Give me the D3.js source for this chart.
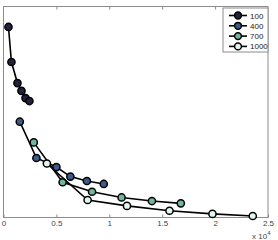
<!DOCTYPE html>
<html>
<meta charset="utf-8">
<script src="https://cdn.jsdelivr.net/npm/d3@7"></script>
<style>
  body { margin: 0; background: #fff; }
  text { font-family: "Liberation Sans", Arial, sans-serif; }
</style>
<body>
<div id="plot_area"></div>
</body>
<script>

// data (x in units of 10^4, y unitless - no y labels on the original)
var seriesNames = ["100", "400", "700", "1000"];
var seriesColors = ["#22223f", "#3d5a8a", "#6fb69a", "#e2f5ee"];
var x100 = [0.047, 0.075, 0.132, 0.170, 0.208, 0.245];
var y100 = [0.903, 0.737, 0.637, 0.600, 0.566, 0.552];
var x400 = [0.154, 0.311, 0.500, 0.632, 0.788, 0.948];
var y400 = [0.454, 0.282, 0.239, 0.194, 0.173, 0.159];
var x700 = [0.286, 0.559, 0.837, 1.116, 1.403, 1.676];
var y700 = [0.356, 0.167, 0.122, 0.095, 0.078, 0.067];
var x1000 = [0.410, 0.795, 1.167, 1.569, 1.975, 2.356];
var y1000 = [0.256, 0.083, 0.055, 0.032, 0.017, 0.007];
var xTicks = [0, 0.5, 1, 1.5, 2, 2.5];

var series = [[x100, y100], [x400, y400], [x700, y700], [x1000, y1000]];

var margin = {top: 6.5, right: 10, bottom: 22.5, left: 3.5},
    width = 278 - margin.left - margin.right,
    height = 240 - margin.top - margin.bottom;

var svg = d3.select("#plot_area")
  .append("svg")
    .attr("width", 278)
    .attr("height", 240)
  .append("g")
    .attr("transform", "translate(" + margin.left + "," + margin.top + ")");

var x = d3.scaleLinear().domain([0, 2.5]).range([0, width]);
var y = d3.scaleLinear().domain([0, 1]).range([height, 0]);

// frame
svg.append("rect")
  .attr("width", width).attr("height", height)
  .attr("fill", "none").attr("stroke", "#8c8c8c").attr("stroke-width", 1);

// bottom axis, ticks inward
var xAxis = svg.append("g")
  .attr("transform", "translate(0," + height + ")")
  .call(d3.axisBottom(x).tickValues(xTicks).tickSize(-3).tickPadding(3)
        .tickFormat(function(d) { return d3.format("")(d); }));
xAxis.select(".domain").remove();
xAxis.selectAll("line").attr("stroke", "#8c8c8c");
xAxis.selectAll("text").attr("fill", "#444").style("font-size", "8px");

// top axis mirror ticks
var xTop = svg.append("g")
  .call(d3.axisTop(x).tickValues(xTicks.slice(1, -1)).tickSize(-3).tickFormat(""));
xTop.select(".domain").remove();
xTop.selectAll("line").attr("stroke", "#8c8c8c");

// exponent label
var expo = svg.append("text")
  .attr("x", width - 16).attr("y", height + 21.5)
  .attr("fill", "#444").style("font-size", "8px")
  .text("x 10");
expo.append("tspan").attr("dy", -4).style("font-size", "6px").text("4");

var line = d3.line()
  .x(function(d) { return x(d[0]); })
  .y(function(d) { return y(d[1]); });

series.forEach(function(s, i) {
  var pts = s[0].map(function(v, j) { return [v, s[1][j]]; });
  svg.append("path")
    .datum(pts)
    .attr("d", line)
    .attr("fill", "none")
    .attr("stroke", "#000")
    .attr("stroke-width", 1.6);
  svg.selectAll(".pt" + i)
    .data(pts)
    .enter()
    .append("circle")
      .attr("cx", function(d) { return x(d[0]); })
      .attr("cy", function(d) { return y(d[1]); })
      .attr("r", 3.6)
      .attr("fill", seriesColors[i])
      .attr("stroke", "#000")
      .attr("stroke-width", 1.5);
});

// legend
var lg = svg.append("g").attr("transform", "translate(" + (223 - margin.left) + "," + (8 - margin.top) + ")");
lg.append("rect")
  .attr("width", 45).attr("height", 44)
  .attr("fill", "#fff").attr("stroke", "#8c8c8c").attr("stroke-width", 1);
seriesNames.forEach(function(name, i) {
  var yy = 7.5 + i * 10.3;
  lg.append("line")
    .attr("x1", 6).attr("x2", 24).attr("y1", yy).attr("y2", yy)
    .attr("stroke", "#000").attr("stroke-width", 1.6);
  lg.append("circle")
    .attr("cx", 15).attr("cy", yy).attr("r", 3.4)
    .attr("fill", seriesColors[i]).attr("stroke", "#000").attr("stroke-width", 1.5);
  lg.append("text")
    .attr("x", 27).attr("y", yy + 3)
    .attr("fill", "#222").style("font-size", "8px")
    .text(name);
});

</script>
</html>
